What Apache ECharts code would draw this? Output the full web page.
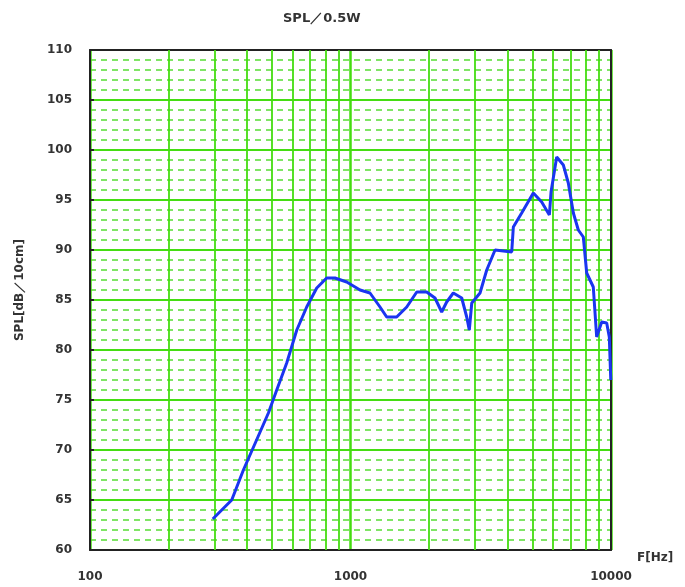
<!DOCTYPE html>
<html>
<head>
<meta charset="utf-8">
<script src="https://cdn.jsdelivr.net/npm/echarts@6/dist/echarts.min.js"></script>
<style>
  html, body { margin: 0; padding: 0; background: #fff; }
  #chart { width: 685px; height: 587px; }
</style>
</head>
<body>
<div id="chart"></div>
<script>
// frequency response
const freq = [296, 350, 388, 436, 484, 521, 569, 622, 679, 742, 810, 872, 967,
  1088, 1188, 1298, 1377, 1504, 1644, 1796, 1961, 2110, 2239, 2340, 2481, 2673,
  2793, 2858, 2921, 3142, 3334, 3588, 3640, 4158, 4218, 4541, 5032, 5420, 5800,
  5886, 6188, 6561, 6857, 7170, 7490, 7830, 8067, 8550, 8810, 9210, 9627, 9851, 9980]
const spl = [63.1, 65, 68, 71, 73.7, 76, 78.7, 82, 84.3, 86.2, 87.2, 87.2, 86.8,
  86, 85.7, 84.3, 83.3, 83.3, 84.3, 85.8, 85.8, 85.2, 83.8, 84.8, 85.7, 85.2,
  83.3, 82, 84.7, 85.7, 88, 90, 89.8, 89.8, 92.3, 93.7, 95.7, 94.8, 93.5,
  95.8, 99.3, 98.5, 96.7, 93.7, 92, 91.3, 87.7, 86.3, 81.3, 82.8, 82.7, 81.3, 77]
// vertical grid lines between decades
const freqLines = [200, 300, 400, 500, 600, 700, 800, 900,
  2000, 3000, 4000, 5000, 6000, 7000, 8000, 9000]

const green = '#44dd11'
const frame = { show: true, lineStyle: { color: '#222', width: 2 } }
const labelFont = { color: '#333', fontSize: 12, fontWeight: 'bold', fontFamily: 'DejaVu Sans' }

const chart = echarts.init(document.getElementById('chart'))
chart.setOption({
  animation: false,
  backgroundColor: '#fff',
  title: {
    text: 'SPL／0.5W',
    left: 278,
    top: 7,
    textStyle: { fontSize: 13, fontWeight: 'bold', color: '#333', fontFamily: 'DejaVu Sans' }
  },
  grid: { left: 90, right: 74, top: 50, bottom: 37 },
  xAxis: [{
    type: 'log',
    logBase: 10,
    min: 100,
    max: 10000,
    axisLine: frame,
    axisTick: { show: false },
    axisLabel: Object.assign({ margin: 21, formatter: v => String(Math.round(v)) }, labelFont),
    splitLine: { show: true, lineStyle: { color: green, width: 2.5 } }
  }, {
    // top edge of the frame
    type: 'log',
    position: 'top',
    min: 100,
    max: 10000,
    axisLine: frame,
    axisTick: { show: false },
    axisLabel: { show: false },
    splitLine: { show: false }
  }],
  yAxis: [{
    type: 'value',
    min: 60,
    max: 110,
    interval: 5,
    axisLine: frame,
    axisTick: { show: true, inside: true, length: 4, lineStyle: { color: '#222', width: 2 } },
    axisLabel: Object.assign({ margin: 18 }, labelFont),
    splitLine: { show: true, lineStyle: { color: green, width: 2 } },
    minorTick: { show: false, splitNumber: 5 },
    minorSplitLine: { show: true, lineStyle: { color: '#55dd33', width: 1.5, type: [6, 5] } }
  }, {
    // right edge of the frame
    type: 'value',
    position: 'right',
    min: 60,
    max: 110,
    axisLine: frame,
    axisTick: { show: false },
    axisLabel: { show: false },
    splitLine: { show: false }
  }],
  graphic: [
    {
      type: 'text',
      x: 20,
      y: 290,
      rotation: Math.PI / 2,
      style: {
        text: 'SPL[dB／10cm]',
        fill: '#333',
        font: 'bold 12px "DejaVu Sans"',
        align: 'center',
        verticalAlign: 'middle'
      }
    },
    {
      type: 'text',
      left: 637,
      top: 552,
      style: { text: 'F[Hz]', fill: '#333', font: 'bold 12px "DejaVu Sans"' }
    }
  ],
  series: [{
    type: 'line',
    data: freq.map((f, i) => [f, spl[i]]),
    showSymbol: false,
    lineStyle: { color: '#1a35f0', width: 3 },
    z: 5,
    markLine: {
      silent: true,
      symbol: 'none',
      label: { show: false },
      lineStyle: { color: green, width: 1.8, type: 'solid' },
      data: freqLines.map(v => ({ xAxis: v }))
    }
  }]
})
</script>
</body>
</html>
